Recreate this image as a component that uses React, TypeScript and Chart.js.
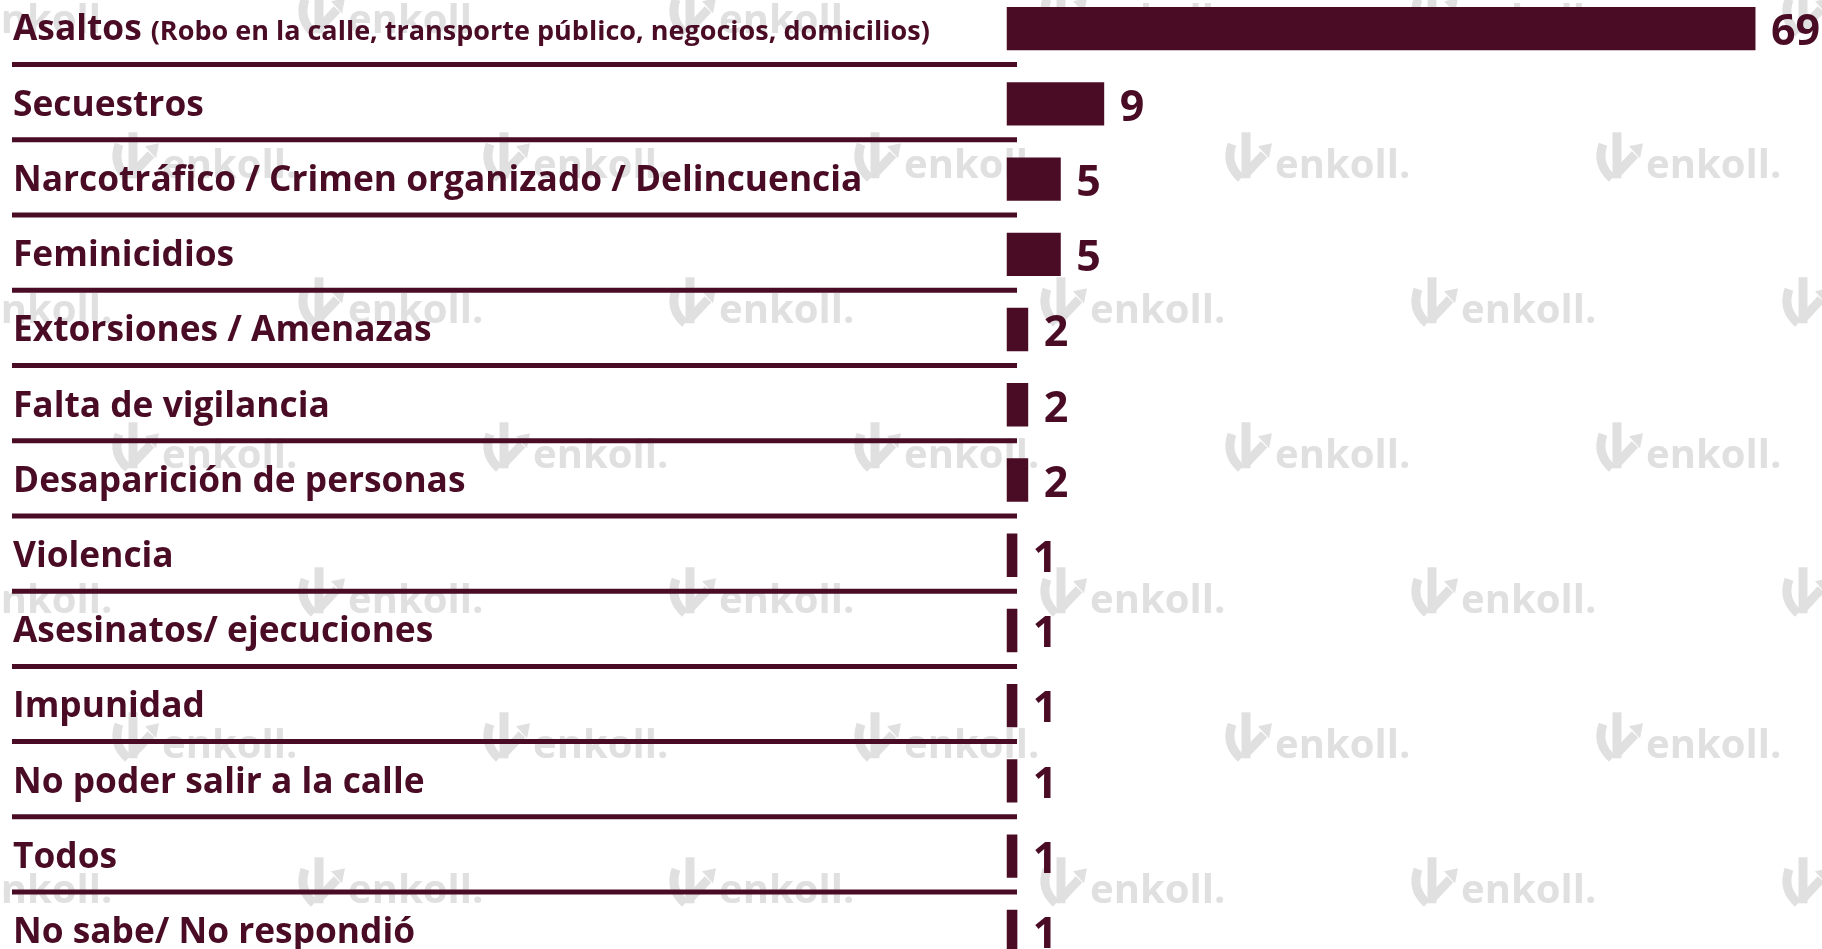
import { useEffect, useRef } from "react";
import { Chart, registerables } from "chart.js";

Chart.register(...registerables);

// ---- Data ----
const categories: string[] = [
  "Asaltos",
  "Secuestros",
  "Narcotráfico / Crimen organizado / Delincuencia",
  "Feminicidios",
  "Extorsiones / Amenazas",
  "Falta de vigilancia",
  "Desaparición de personas",
  "Violencia",
  "Asesinatos/ ejecuciones",
  "Impunidad",
  "No poder salir a la calle",
  "Todos",
  "No sabe/ No respondió",
];

const categoryNotes: string[] = [
  "(Robo en la calle, transporte público, negocios, domicilios)",
  "", "", "", "", "", "", "", "", "", "", "", "",
];

const values: number[] = [69, 9, 5, 5, 2, 2, 2, 1, 1, 1, 1, 1, 1];

const valueLabels: string[] = values.map((v) => String(v));

const X_MAX = 75;

// ---- Style ----
const MAROON = "#4a0c25";
const WATERMARK = "#e0e0e0";
const FONT = "'Open Sans', 'Noto Sans', sans-serif";
const CANVAS_SHIFT = 9.3; // canvas is shifted up by this many px inside the page

function drawLogo(ctx: CanvasRenderingContext2D, x: number, base: number) {
  const top = base - 46;
  ctx.lineWidth = 9;
  ctx.lineCap = "butt";
  ctx.beginPath();
  ctx.moveTo(x + 6, top + 12);
  ctx.quadraticCurveTo(x - 1, top + 32, x + 15, top + 46);
  ctx.stroke();
  ctx.beginPath();
  ctx.moveTo(x + 20, top);
  ctx.lineTo(x + 20, top + 46);
  ctx.stroke();
  ctx.beginPath();
  ctx.moveTo(x + 21, top + 40);
  ctx.lineTo(x + 38, top + 22);
  ctx.stroke();
  ctx.beginPath();
  ctx.moveTo(x + 32, top + 14);
  ctx.lineTo(x + 46, top + 11);
  ctx.lineTo(x + 43, top + 26);
  ctx.closePath();
  ctx.fill();
}

const watermarkPlugin = {
  id: "enkollWatermark",
  beforeDatasetsDraw(chart: any) {
    const ctx: CanvasRenderingContext2D = chart.ctx;
    ctx.save();
    ctx.fillStyle = WATERMARK;
    ctx.strokeStyle = WATERMARK;
    ctx.font = `bold 40px ${FONT}`;
    ctx.textBaseline = "alphabetic";
    ctx.textAlign = "left";
    for (let k = 0; k < 7; k++) {
      const base = 33 + k * 145 + CANVAS_SHIFT;
      const start = k % 2 === 0 ? 299 : 113;
      for (let m = -1; m < 5; m++) {
        const x = start + m * 371;
        drawLogo(ctx, x, base);
        ctx.fillText("enkoll.", x + 49, base);
      }
    }
    ctx.restore();
  },
};

const rowLabelsPlugin = {
  id: "rowLabels",
  afterDatasetsDraw(chart: any) {
    const ctx: CanvasRenderingContext2D = chart.ctx;
    const yScale = chart.scales.y;
    const meta = chart.getDatasetMeta(0);
    const pitch = yScale.getPixelForValue(1) - yScale.getPixelForValue(0);
    const lineRight = chart.chartArea.left + 10.5;
    ctx.save();
    ctx.fillStyle = MAROON;
    ctx.strokeStyle = MAROON;
    ctx.textAlign = "left";
    ctx.textBaseline = "alphabetic";
    categories.forEach((label, i) => {
      const cy = yScale.getPixelForValue(i);
      // separator under each row
      const ly = cy + pitch / 2 - 1.7;
      ctx.lineWidth = 5;
      ctx.beginPath();
      ctx.moveTo(12, ly);
      ctx.lineTo(lineRight, ly);
      ctx.stroke();
      // category label
      ctx.font = `bold 35.3px ${FONT}`;
      ctx.fillText(label, 13, cy + 11.8);
      if (categoryNotes[i]) {
        const w = ctx.measureText(label).width;
        ctx.font = `bold 27px ${FONT}`;
        ctx.fillText(categoryNotes[i], 13 + w + 9, cy + 11.8);
      }
      // value label
      const bar = meta.data[i];
      ctx.font = `bold 43px ${FONT}`;
      ctx.fillText(valueLabels[i], bar.x + 15.5, cy + 16.8);
    });
    ctx.restore();
  },
};

export default function App() {
  const canvasRef = useRef<HTMLCanvasElement | null>(null);

  useEffect(() => {
    document.documentElement.style.overflow = "hidden";
    document.body.style.margin = "0";
    document.body.style.overflow = "hidden";
    const canvas = canvasRef.current;
    if (!canvas) return;
    const chart = new Chart(canvas, {
      type: "bar",
      data: {
        labels: categories,
        datasets: [
          {
            data: values,
            backgroundColor: MAROON,
            borderWidth: 0,
            categoryPercentage: 1,
            barPercentage: 0.576,
          },
        ],
      },
      options: {
        indexAxis: "y",
        animation: false,
        responsive: true,
        maintainAspectRatio: false,
        layout: { padding: { left: 1006.5, right: 1.4, top: 0, bottom: 0 } },
        plugins: {
          legend: { display: false },
          tooltip: { enabled: false },
          title: { display: false },
        },
        scales: {
          x: { display: false, min: 0, max: X_MAX },
          y: { display: false, offset: true },
        },
      },
      plugins: [watermarkPlugin, rowLabelsPlugin],
    });
    if ((document as any).fonts && (document as any).fonts.ready) {
      (document as any).fonts.ready.then(() => chart.update());
    }
    return () => chart.destroy();
  }, []);

  return (
    <div style={{ position: "relative", width: 1822, height: 949, overflow: "hidden", background: "#ffffff" }}>
      <div style={{ position: "absolute", left: 0, top: -CANVAS_SHIFT, width: 1822, height: 978 }}>
        <canvas ref={canvasRef} />
      </div>
    </div>
  );
}
